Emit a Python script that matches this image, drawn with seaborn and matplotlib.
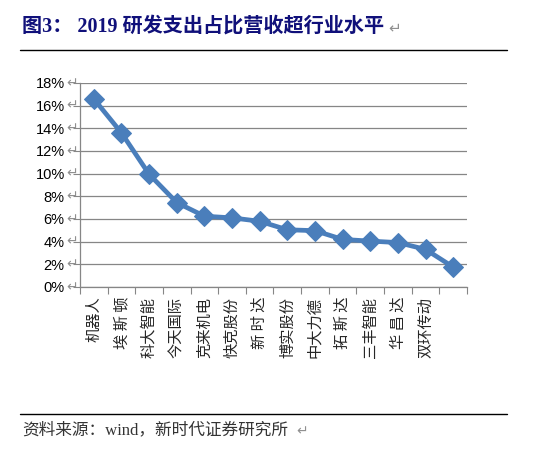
import matplotlib
matplotlib.use('Agg')
import matplotlib.pyplot as plt
from matplotlib.lines import Line2D
from matplotlib.ticker import FixedLocator
import seaborn as sns
import pandas as pd

# 14 points; the last category label is cut off in the source picture
companies = ['机器人', '埃 斯 顿', '科大智能', '今天国际', '克来机电', '快克股份',
             '新 时 达', '博实股份', '中大力德', '拓 斯 达', '三丰智能', '华 昌 达',
             '双环传动', '']
ratio = [16.6, 13.6, 9.95, 7.45, 6.25, 6.1, 5.8, 5.05, 4.97, 4.2, 4.05,
         3.92, 3.32, 1.76]
yticks = [0, 2, 4, 6, 8, 10, 12, 14, 16, 18]

title = '图3： 2019 研发支出占比营收超行业水平'
source = '资料来源：wind，新时代证券研究所'

sns.set_theme(style='white')
plt.rcParams['font.family'] = ['Liberation Sans', 'Noto Sans CJK SC', 'DejaVu Sans']

BLUE = '#4a7ebb'
GRID = '#868686'

fig = plt.figure(figsize=(5.41, 4.51), dpi=100)
ax = fig.add_axes([80 / 541, 1 - 287 / 451, (467 - 80) / 541, (287 - 83) / 451])
df = pd.DataFrame({'company': companies, 'ratio': ratio, 'x': range(len(ratio))})
sns.lineplot(data=df, x='x', y='ratio', ax=ax, color=BLUE, linewidth=3.4,
             marker='D', markersize=10, markeredgecolor=BLUE, zorder=3)

ax.set_xlim(-0.5, len(ratio) - 0.5)
ax.set_ylim(0, 18)
ax.set_yticks(yticks)
ax.set_yticklabels([f'{v}%' for v in yticks], fontsize=10.5, color='black')
ax.set_xticks(df['x'])
ax.set_xticklabels(df['company'], rotation=90, fontsize=11,
                   family=['Noto Sans CJK SC', 'DejaVu Sans'], va='top')
ax.tick_params(axis='x', length=0, pad=7)
ax.tick_params(axis='y', length=5, width=0.8, color=GRID, direction='out', pad=6, left=True)
ax.xaxis.set_minor_locator(FixedLocator([i - 0.5 for i in range(len(ratio) + 1)]))
ax.tick_params(axis='x', which='minor', length=5, width=0.8, color=GRID, bottom=True)
ax.set_xlabel('')
ax.set_ylabel('')
ax.grid(axis='y', color=GRID, linewidth=0.9)
ax.set_axisbelow(True)
for s in ['top', 'right']:
    ax.spines[s].set_visible(False)
for s in ['left', 'bottom']:
    ax.spines[s].set_color(GRID)
    ax.spines[s].set_linewidth(0.9)

# word "return" marks after tick labels
for v in yticks:
    ax.annotate('↵', (0, v), xycoords=('axes fraction', 'data'), xytext=(-6, 0),
                textcoords='offset points', ha='center', va='center',
                fontsize=10, color='#909090', family='DejaVu Sans')

# title and source
fig.text(22 / 541, 1 - 27 / 451, title, fontsize=14.5, fontweight='bold', color='#10107a',
         family=['Liberation Serif', 'Noto Sans CJK SC'], va='center', ha='left')
fig.text(388 / 541, 1 - 28 / 451, '↵', fontsize=11, color='#909090',
         family='DejaVu Sans', va='center', ha='left')
fig.add_artist(Line2D([20 / 541, 507 / 541], [1 - 50 / 451] * 2, color='black', linewidth=1))
fig.add_artist(Line2D([20 / 541, 507 / 541], [1 - 414 / 451] * 2, color='black', linewidth=1))
fig.text(22 / 541, 1 - 430 / 451, source, fontsize=12, color='#333333',
         family=['Liberation Serif', 'Noto Sans CJK SC'], va='center', ha='left')
fig.text(296 / 541, 1 - 431 / 451, '↵', fontsize=10, color='#909090',
         family='DejaVu Sans', va='center', ha='left')

fig.savefig('out.png', dpi=100, facecolor='white')
